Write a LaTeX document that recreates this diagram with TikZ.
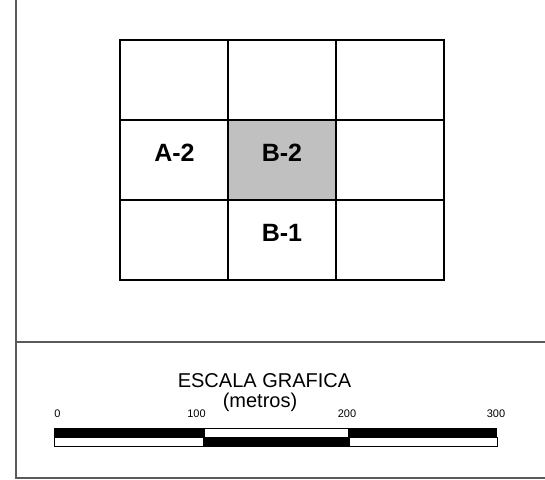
\documentclass[tikz,border=0pt]{standalone}
\usepackage{fontspec}
\setmainfont{Liberation Sans}
\definecolor{cellgray}{HTML}{C0C0C0}
\definecolor{framegray}{HTML}{5A5A5A}
\begin{document}
\begin{tikzpicture}[x=1pt,y=-1pt,
  gridline/.style={line width=1.5pt,black},
  frameline/.style={line width=1.5pt,framegray},
  cellname/.style={font=\bfseries\fontsize{25}{25}\selectfont,inner sep=0pt},
  ticklabel/.style={font=\fontsize{11}{11}\selectfont,inner sep=0pt},
  scaletext/.style={font=\fontsize{20}{20}\selectfont,inner sep=0pt},
  barpart/.style={draw=black,line width=0.8pt}]
\useasboundingbox (0,0) rectangle (545,479);
% frame
\coordinate (ftop) at (16,0);
\coordinate (fbl) at (16,478);
\coordinate (fbr) at (545,478);
\coordinate (fml) at (16,342);
\coordinate (fmr) at (545,342);
\draw[frameline] (ftop) -- (fbl) -- (fbr);
\draw[frameline] (fml) -- (fmr);
% grid
\fill[cellgray] (228,120) rectangle (336,200);
\draw[gridline] (120,40) rectangle (444,280);
\draw[gridline] (228,40) -- (228,280) (336,40) -- (336,280);
\draw[gridline] (120,120) -- (444,120) (120,200) -- (444,200);
\node[cellname] (a2) at (174.5,152.5) {A-2};
\node[cellname] (b2) at (282,152.5) {B-2};
\node[cellname] (b1) at (282,232.5) {B-1};
% scale
\node[scaletext] (title) at (264.5,381) {ESCALA GRAFICA};
\node[scaletext] (units) at (260,402) {(metros)};
\node[ticklabel] (t0) at (57.5,413.5) {0};
\node[ticklabel] (t1) at (196.5,413.5) {100};
\node[ticklabel] (t2) at (347,413.5) {200};
\node[ticklabel] (t3) at (496,413.5) {300};
\fill[black] (54,427.5) rectangle (204,437);
\draw[barpart,fill=white] (204,428.5) rectangle (348,437);
\fill[black] (348,427.5) rectangle (497,437);
\draw[barpart,fill=white] (54,437.5) rectangle (203,446.5);
\fill[black] (203,437) rectangle (349,447);
\draw[barpart,fill=white] (349,437.5) rectangle (497,446.5);
\end{tikzpicture}
\end{document}
